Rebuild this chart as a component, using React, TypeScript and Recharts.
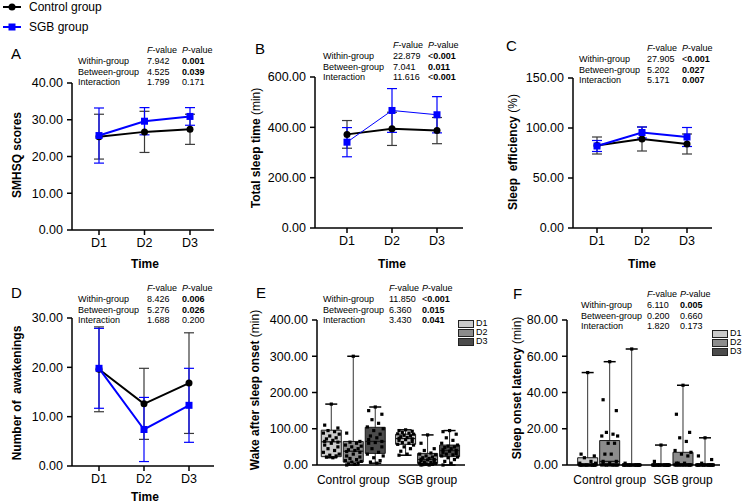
import React from 'react'
import { LineChart, Line, XAxis, YAxis, ErrorBar, ComposedChart, Bar, Scatter } from 'recharts'

const DAYS = ['D1', 'D2', 'D3']
const GROUPS = ['Control group', 'SGB group']
const STAT_ROWS = ['Within-group', 'Between-group', 'Interaction']

// A: SMHSQ scores (mean, SD)
const smhsqCtrl = [25.4, 26.7, 27.4]
const smhsqCtrlSd = [6.1, 5.6, 4.1]
const smhsqSgb = [25.7, 29.6, 30.9]
const smhsqSgbSd = [7.5, 3.7, 2.4]
const smhsqF = ['7.942', '4.525', '1.799']
const smhsqP = ['0.001', '0.039', '0.171']

// B: total sleep time (min)
const tstCtrl = [372, 394, 387]
const tstCtrlSd = [55, 66, 52]
const tstSgb = [341, 467, 450]
const tstSgbSd = [58, 87, 72]
const tstF = ['22.879', '7.041', '11.616']
const tstP = ['<0.001', '0.011', '<0.001']

// C: sleep efficiency (%)
const seCtrl = [82.5, 89, 84]
const seCtrlSd = [8.5, 12, 10]
const seSgb = [82, 95.5, 91]
const seSgbSd = [5.5, 5.5, 9.5]
const seF = ['27.905', '5.202', '5.171']
const seP = ['<0.001', '0.027', '0.007']

// D: number of awakenings
const awkCtrl = [19.6, 12.6, 16.8]
const awkCtrlSd = [8.6, 7.2, 10.2]
const awkSgb = [19.8, 7.4, 12.3]
const awkSgbSd = [8.1, 6.5, 7.5]
const awkF = ['8.426', '5.276', '1.688']
const awkP = ['0.006', '0.026', '0.200']

// E: wake after sleep onset (min); boxes ctrl D1-D3, SGB D1-D3
const wasoMin = [20, 0, 5, 27, 0, 0]
const wasoQ1 = [23, 8, 32, 57, 4, 23]
const wasoMed = [64, 38, 65, 73, 15, 40]
const wasoQ3 = [96, 65, 104, 85, 32, 55]
const wasoMax = [168, 300, 160, 97, 83, 95]
const wasoCtrlD1 = [168, 110, 102, 95, 92, 88, 85, 80, 75, 72, 68, 65, 63, 60, 55, 50, 45, 40, 35, 30, 27, 25, 22, 20]
const wasoCtrlD2 = [300, 88, 65, 63, 60, 55, 52, 50, 45, 42, 40, 37, 35, 30, 25, 22, 18, 15, 12, 10, 8, 5, 3, 2, 0]
const wasoCtrlD3 = [160, 150, 140, 125, 115, 105, 100, 95, 85, 80, 75, 70, 65, 62, 60, 50, 45, 35, 30, 25, 20, 12, 8, 5]
const wasoSgbD1 = [97, 95, 93, 90, 88, 86, 85, 82, 80, 78, 76, 74, 72, 70, 68, 65, 62, 60, 57, 55, 50, 45, 38, 30, 27]
const wasoSgbD2 = [83, 60, 45, 40, 33, 30, 28, 25, 22, 20, 18, 16, 15, 14, 12, 10, 8, 7, 5, 4, 3, 2, 1, 0, 0]
const wasoSgbD3 = [95, 92, 85, 75, 68, 60, 55, 52, 50, 48, 45, 42, 40, 38, 35, 32, 30, 28, 25, 22, 20, 15, 10, 5, 0]
const wasoF = ['11.850', '6.360', '3.430']
const wasoP = ['<0.001', '0.015', '0.041']

// F: sleep onset latency (min)
const solMin = [0, 0, 0, 0, 0, 0]
const solQ1 = [0, 0, 0, 0, 0, 0]
const solMed = [0, 2, 0, 0, 0.5, 0]
const solQ3 = [4, 13.5, 0, 0, 7, 0]
const solMax = [51, 57, 64, 11, 44, 15]
const solCtrlD1 = [51, 6, 5, 4, 2, 1, 1, 0, 0, 0, 0, 0, 0, 0, 0, 0, 0, 0, 0, 0, 0, 0]
const solCtrlD2 = [57, 36, 30, 18, 17, 16, 16, 12, 12, 6, 6, 2, 2, 1, 1, 0, 0, 0, 0, 0, 0, 0, 0, 0]
const solCtrlD3 = [64, 1, 0, 0, 0, 0, 0, 0, 0, 0, 0, 0, 0, 0, 0, 0, 0, 0, 0, 0, 0, 0]
const solSgbD1 = [11, 2, 0, 0, 0, 0, 0, 0, 0, 0, 0, 0, 0, 0, 0, 0, 0, 0, 0, 0, 0, 0]
const solSgbD2 = [44, 28, 18, 15, 13, 8, 7, 6, 5, 1, 1, 1, 0, 0, 0, 0, 0, 0, 0, 0, 0, 0, 0, 0]
const solSgbD3 = [15, 5, 3, 1, 0, 0, 0, 0, 0, 0, 0, 0, 0, 0, 0, 0, 0, 0, 0, 0, 0, 0]
const solF = ['6.110', '0.200', '1.820']
const solP = ['0.005', '0.660', '0.173']

const BLUE = '#0000ff'
const DAY_FILLS = ['#cbcbcb', '#8c8c8c', '#4b4b4b']
const JITTER = [0, -0.3, 0.3, -0.15, 0.15, -0.36, 0.36, -0.07, 0.22, -0.22, 0.07, -0.3, 0.3]
const FONT = '"Liberation Sans", Arial, sans-serif'
const BOX_W = 20

const axisStyle = { stroke: '#000', strokeWidth: 1.5 }
const tickStyle = { fontSize: 12.5, fill: '#000' }

const yTicks = (max: number, step: number) => {
  const out: number[] = []
  for (let v = 0; v <= max + 1e-9; v += step) out.push(v)
  return out
}

type Rect = { x0: number; x1: number; y0: number; y1: number }

const YW = 60
const MT = 12
const MR = 12
const XH = 30

function LinePanel(props: {
  plot: Rect; yMax: number; yStep: number; padL: number; padR: number; sgbWidth: number
  ctrl: number[]; ctrlSd: number[]; sgb: number[]; sgbSd: number[]
}) {
  const { plot, yMax, yStep, padL, padR, sgbWidth } = props
  const data = DAYS.map((d, i) => ({
    day: d, ctrl: props.ctrl[i], ctrlSd: props.ctrlSd[i], sgb: props.sgb[i], sgbSd: props.sgbSd[i],
  }))
  const width = plot.x1 - plot.x0 + YW + MR
  const height = plot.y1 - plot.y0 + MT + XH
  return (
    <div style={{ position: 'absolute', left: plot.x0 - YW, top: plot.y0 - MT }}>
      <LineChart width={width} height={height} data={data} margin={{ top: MT, right: MR, bottom: 0, left: 0 }}>
        <XAxis dataKey="day" scale="point" padding={{ left: padL, right: padR }} height={XH}
          axisLine={axisStyle} tickLine={axisStyle} tickSize={5} tickMargin={3} tick={tickStyle} />
        <YAxis width={YW} domain={[0, yMax]} ticks={yTicks(yMax, yStep)} tickFormatter={(v: number) => v.toFixed(2)}
          axisLine={axisStyle} tickLine={axisStyle} tickSize={5} tickMargin={4} tick={tickStyle} interval={0} />
        <Line dataKey="ctrl" stroke="#000" strokeWidth={2} isAnimationActive={false}
          dot={(p: any) => <circle key={'c' + p.index} cx={p.cx} cy={p.cy} r={3.5} fill="#000" />}>
          <ErrorBar dataKey="ctrlSd" direction="y" width={5} stroke="#3a3a3a" strokeWidth={1.2} />
        </Line>
        <Line dataKey="sgb" stroke={BLUE} strokeWidth={sgbWidth} isAnimationActive={false}
          dot={(p: any) => <rect key={'s' + p.index} x={p.cx - 3.5} y={p.cy - 3.5} width={7} height={7} fill={BLUE} />}>
          <ErrorBar dataKey="sgbSd" direction="y" width={5} stroke={BLUE} strokeWidth={1.2} />
        </Line>
      </LineChart>
    </div>
  )
}

const WHISK = '#333'

type BoxRow = { x: number; day: number; range: number[]; min: number; q1: number; med: number; q3: number; max: number }

function BoxPanel(props: {
  plot: Rect; yMax: number; yStep: number; xMax: number; centers: number[]
  min: number[]; q1: number[]; med: number[]; q3: number[]; max: number[]; points: number[][]
}) {
  const { plot, yMax, yStep, xMax, centers } = props
  const rows: BoxRow[] = props.min.map((mn, i) => ({
    x: centers[Math.floor(i / 3)] + (i % 3) - 1,
    day: i % 3,
    range: [mn, props.max[i]],
    min: mn, q1: props.q1[i], med: props.med[i], q3: props.q3[i], max: props.max[i],
  }))
  const pts = props.points.flatMap((vals, i) =>
    vals.map((v, k) => ({ x: rows[i].x + JITTER[k % JITTER.length], y: v })))

  // bar spans min..max; quartiles placed on the same linear pixel scale
  const boxShape = (p: any) => {
    const r: BoxRow = rows[p.index] ?? p.payload
    const top = Math.min(p.y, p.y + p.height)
    const bot = Math.max(p.y, p.y + p.height)
    const toY = (v: number) => bot - ((v - r.min) / (r.max - r.min)) * (bot - top)
    const cx = p.x + p.width / 2
    const left = cx - BOX_W / 2
    const yQ1 = toY(r.q1)
    const yQ3 = toY(r.q3)
    const yMed = toY(r.med)
    return (
      <g>
        <line x1={cx} x2={cx} y1={top} y2={bot} stroke={WHISK} strokeWidth={1} />
        <line x1={cx - 6} x2={cx + 6} y1={top} y2={top} stroke="#000" strokeWidth={1.5} />
        <line x1={cx - 6} x2={cx + 6} y1={bot} y2={bot} stroke="#000" strokeWidth={1.5} />
        <path d={`M${left},${yQ3}H${left + BOX_W}V${yQ1}H${left}Z`} fill={DAY_FILLS[r.day]} stroke="#1a1a1a" strokeWidth={1} />
        <line x1={left} x2={left + BOX_W} y1={yMed} y2={yMed} stroke="#1a1a1a" strokeWidth={1.3} />
      </g>
    )
  }

  const width = plot.x1 - plot.x0 + YW + MR
  const height = plot.y1 - plot.y0 + MT + XH
  return (
    <div style={{ position: 'absolute', left: plot.x0 - YW, top: plot.y0 - MT }}>
      <ComposedChart width={width} height={height} data={rows} margin={{ top: MT, right: MR, bottom: 0, left: 0 }}>
        <XAxis type="number" dataKey="x" domain={[0, xMax]} ticks={centers}
          tickFormatter={(v: number) => GROUPS[centers.indexOf(v)] ?? ''} height={XH}
          axisLine={axisStyle} tickLine={false} tickSize={8} tickMargin={2} tick={{ fontSize: 12, fill: '#000' }} interval={0} />
        <YAxis width={YW} domain={[0, yMax]} ticks={yTicks(yMax, yStep)} tickFormatter={(v: number) => v.toFixed(2)}
          axisLine={axisStyle} tickLine={axisStyle} tickSize={5} tickMargin={4} tick={tickStyle} interval={0} />
        <Bar dataKey="range" isAnimationActive={false} shape={boxShape} />
        <Scatter data={pts} dataKey="y" isAnimationActive={false}
          shape={(p: any) => <rect x={p.cx - 1.6} y={p.cy - 1.6} width={3.2} height={3.2} fill="#000" />} />
      </ComposedChart>
    </div>
  )
}

function T({ x, y, size = 9, bold = false, children, anchor = 'left' }: any) {
  return (
    <span style={{
      position: 'absolute', left: x, top: y, transform: anchor === 'center' ? 'translate(-50%, -50%)' : 'translateY(-50%)',
      fontSize: size, fontWeight: bold ? 'bold' : 'normal', whiteSpace: 'pre', lineHeight: 1,
    }}>{children}</span>
  )
}

function Stats({ x, y, fx, px, f, p }: any) {
  const rowY = [y + 11, y + 21.5, y + 32]
  const pCell = (s: string) => {
    if (s.startsWith('<')) return <>{'<'}<b>{s.slice(1)}</b></>
    return parseFloat(s) < 0.05 ? <b>{s}</b> : s
  }
  return (
    <>
      <T x={fx} y={y}><i>F</i>-value</T>
      <T x={px} y={y}><i>P</i>-value</T>
      {STAT_ROWS.map((r, i) => (
        <React.Fragment key={r}>
          <T x={x} y={rowY[i]}>{r}</T>
          <T x={fx} y={rowY[i]}>{f[i]}</T>
          <T x={px} y={rowY[i]}>{pCell(p[i])}</T>
        </React.Fragment>
      ))}
    </>
  )
}

function VTitle({ cx, cy, children }: any) {
  return (
    <span style={{
      position: 'absolute', left: cx, top: cy, transform: 'translate(-50%, -50%) rotate(-90deg)',
      fontSize: 12, whiteSpace: 'pre', lineHeight: 1,
    }}>{children}</span>
  )
}

function DayLegend({ x, ys }: any) {
  return (
    <>
      {DAYS.map((d, i) => (
        <React.Fragment key={d}>
          <div style={{
            position: 'absolute', left: x, top: ys[i] - 3.5, width: 14, height: 6,
            background: DAY_FILLS[i], border: '0.8px solid #222',
          }} />
          <T x={x + 18} y={ys[i]} size={9}>{d}</T>
        </React.Fragment>
      ))}
    </>
  )
}

export default function App() {
  return (
    <div style={{ position: 'absolute', left: 0, top: 0, width: 745, height: 503, background: '#fff', fontFamily: FONT, color: '#000' }}>
      <LinePanel plot={{ x0: 72, x1: 214, y0: 83, y1: 230 }} yMax={40} yStep={10} padL={27} padR={24} sgbWidth={2}
        ctrl={smhsqCtrl} ctrlSd={smhsqCtrlSd} sgb={smhsqSgb} sgbSd={smhsqSgbSd} />
      <LinePanel plot={{ x0: 315, x1: 463, y0: 77, y1: 228 }} yMax={600} yStep={200} padL={32} padR={26} sgbWidth={1}
        ctrl={tstCtrl} ctrlSd={tstCtrlSd} sgb={tstSgb} sgbSd={tstSgbSd} />
      <LinePanel plot={{ x0: 573, x1: 712, y0: 78, y1: 228 }} yMax={150} yStep={50} padL={24} padR={25} sgbWidth={2}
        ctrl={seCtrl} ctrlSd={seCtrlSd} sgb={seSgb} sgbSd={seSgbSd} />
      <LinePanel plot={{ x0: 72, x1: 214, y0: 318, y1: 466 }} yMax={30} yStep={10} padL={27} padR={25} sgbWidth={2}
        ctrl={awkCtrl} ctrlSd={awkCtrlSd} sgb={awkSgb} sgbSd={awkSgbSd} />
      <BoxPanel plot={{ x0: 317, x1: 465, y0: 320, y1: 465 }} yMax={400} yStep={100} xMax={6.73} centers={[1.65, 5.03]}
        min={wasoMin} q1={wasoQ1} med={wasoMed} q3={wasoQ3} max={wasoMax}
        points={[wasoCtrlD1, wasoCtrlD2, wasoCtrlD3, wasoSgbD1, wasoSgbD2, wasoSgbD3]} />
      <BoxPanel plot={{ x0: 567, x1: 720, y0: 320, y1: 465 }} yMax={80} yStep={20} xMax={6.95} centers={[1.94, 5.27]}
        min={solMin} q1={solQ1} med={solMed} q3={solQ3} max={solMax}
        points={[solCtrlD1, solCtrlD2, solCtrlD3, solSgbD1, solSgbD2, solSgbD3]} />

      {/* top legend */}
      <svg style={{ position: 'absolute', left: 0, top: 0 }} width={26} height={36}>
        <line x1={3} x2={21} y1={7} y2={7} stroke="#000" strokeWidth={2} />
        <circle cx={12} cy={7} r={3.5} fill="#000" />
        <line x1={3} x2={21} y1={27} y2={27} stroke={BLUE} strokeWidth={2} />
        <rect x={8.5} y={23.5} width={7} height={7} fill={BLUE} />
      </svg>
      <T x={29} y={7} size={12}>Control group</T>
      <T x={29} y={27} size={12}>SGB group</T>

      {/* panel letters */}
      <T x={11} y={53} size={15}>A</T>
      <T x={255} y={48} size={15}>B</T>
      <T x={506} y={45} size={15}>C</T>
      <T x={11} y={292} size={15}>D</T>
      <T x={256} y={292} size={15}>E</T>
      <T x={513} y={293} size={15}>F</T>

      <Stats x={78} y={50} fx={147} px={182} f={smhsqF} p={smhsqP} />
      <Stats x={323} y={45} fx={393} px={428} f={tstF} p={tstP} />
      <Stats x={579} y={48} fx={647} px={682} f={seF} p={seP} />
      <Stats x={78} y={288} fx={147} px={182} f={awkF} p={awkP} />
      <Stats x={323} y={288} fx={389} px={422} f={wasoF} p={wasoP} />
      <Stats x={581} y={294} fx={647} px={680} f={solF} p={solP} />

      <VTitle cx={17} cy={155}><b>SMHSQ scores</b></VTitle>
      <VTitle cx={256} cy={148}><b>Total sleep time</b> (min)</VTitle>
      <VTitle cx={513} cy={152}><b>Sleep  efficiency</b> (%)</VTitle>
      <VTitle cx={17} cy={393}><b>Number of  awakenings</b></VTitle>
      <VTitle cx={255} cy={390}><b>Wake after sleep onset</b> (min)</VTitle>
      <VTitle cx={517} cy={388}><b>Sleep onset latency</b> (min)</VTitle>

      <T x={145} y={264} size={12} bold anchor="center">Time</T>
      <T x={392} y={264} size={12} bold anchor="center">Time</T>
      <T x={642} y={264} size={12} bold anchor="center">Time</T>
      <T x={145} y={497} size={12} bold anchor="center">Time</T>

      <DayLegend x={458} ys={[323, 332, 341]} />
      <DayLegend x={712} ys={[333, 342, 351]} />
    </div>
  )
}
